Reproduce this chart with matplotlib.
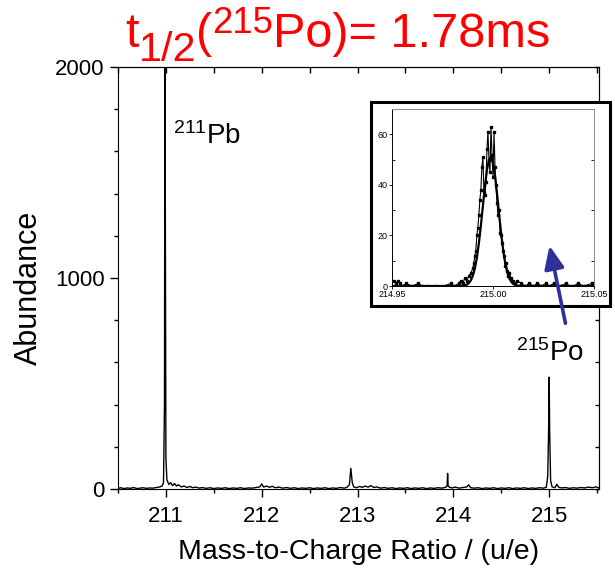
import numpy as np
import matplotlib.pyplot as plt
from matplotlib.patches import Rectangle, FancyArrowPatch
from matplotlib.ticker import MultipleLocator

plt.rcParams['font.family'] = ['Liberation Sans', 'DejaVu Sans']
plt.rcParams['mathtext.fontset'] = 'custom'
plt.rcParams['mathtext.rm'] = 'Liberation Sans'
plt.rcParams['mathtext.it'] = 'Liberation Sans:italic'

# mass spectrum
mass = [210.50, 210.53, 210.56, 210.60, 210.63, 210.66, 210.70, 210.73, 210.76, 210.80,
        210.83, 210.86, 210.90, 210.93, 210.96, 210.975, 210.985, 210.99, 210.995, 211.00,
        211.01, 211.03, 211.05, 211.07, 211.09, 211.11, 211.13, 211.16, 211.19, 211.22,
        211.25, 211.28, 211.31, 211.35, 211.38, 211.42, 211.46, 211.50, 211.54, 211.58,
        211.62, 211.66, 211.70, 211.74, 211.78, 211.82, 211.86, 211.90, 211.94, 211.98,
        212.00, 212.02, 212.05, 212.08, 212.11, 212.14, 212.18, 212.22, 212.26, 212.30,
        212.34, 212.38, 212.42, 212.46, 212.50, 212.54, 212.58, 212.62, 212.66, 212.70,
        212.74, 212.78, 212.82, 212.86, 212.89, 212.915, 212.93, 212.945, 212.96, 212.99,
        213.02, 213.05, 213.08, 213.11, 213.14, 213.17, 213.20, 213.24, 213.28, 213.32,
        213.36, 213.40, 213.44, 213.48, 213.52, 213.56, 213.60, 213.64, 213.68, 213.72,
        213.76, 213.80, 213.84, 213.88, 213.92, 213.935, 213.94, 213.945, 213.96, 213.99,
        214.02, 214.06, 214.10, 214.14, 214.16, 214.18, 214.22, 214.26, 214.30, 214.34,
        214.38, 214.42, 214.46, 214.50, 214.54, 214.58, 214.62, 214.66, 214.70, 214.74,
        214.78, 214.82, 214.86, 214.90, 214.94, 214.97, 214.985, 214.995, 215.00, 215.005,
        215.015, 215.03, 215.06, 215.08, 215.10, 215.13, 215.17, 215.21, 215.25, 215.29,
        215.33, 215.37, 215.41, 215.45, 215.49, 215.52]
counts = [3, 6, 2, 5, 3, 7, 2, 4, 6, 3,
          5, 4, 7, 9, 14, 30, 400, 2100, 1200, 150,
          45, 22, 30, 16, 26, 14, 20, 10, 14, 7,
          12, 6, 9, 4, 7, 3, 6, 2, 5, 3,
          6, 2, 5, 3, 6, 2, 5, 4, 7, 10,
          24, 9, 14, 8, 13, 6, 9, 4, 7, 3,
          6, 2, 5, 3, 6, 2, 5, 3, 6, 2,
          5, 3, 7, 4, 8, 20, 98, 30, 10, 6,
          12, 8, 14, 9, 16, 7, 10, 4, 7, 3,
          6, 2, 5, 3, 6, 2, 5, 3, 6, 2,
          5, 3, 6, 4, 8, 15, 74, 15, 8, 5,
          9, 4, 7, 10, 20, 6, 4, 6, 2, 5,
          3, 6, 2, 5, 3, 6, 2, 5, 3, 6,
          2, 5, 3, 6, 4, 8, 60, 300, 530, 280,
          40, 10, 6, 22, 8, 5, 7, 3, 6, 4,
          7, 5, 9, 6, 10, 5]

# inset: 215Po peak, data points
po_x = [214.951, 214.952, 214.953, 214.954, 214.955, 214.957, 214.960, 214.963, 214.965, 214.968,
        214.972, 214.976, 214.979, 214.981, 214.983, 214.984, 214.985, 214.986, 214.987, 214.988,
        214.989, 214.990, 214.9905, 214.991, 214.9915, 214.992, 214.9925, 214.993, 214.9935, 214.994,
        214.9945, 214.995, 214.9955, 214.996, 214.9965, 214.997, 214.9975, 214.998, 214.9985, 214.999,
        214.9995, 215.000, 215.0005, 215.001, 215.0015, 215.002, 215.0025, 215.003, 215.0035, 215.004,
        215.0045, 215.005, 215.0055, 215.006, 215.0065, 215.007, 215.0075, 215.008, 215.009, 215.010,
        215.011, 215.012, 215.014, 215.016, 215.018, 215.020, 215.022, 215.024, 215.026, 215.028,
        215.030, 215.033, 215.036, 215.038, 215.040, 215.042, 215.045, 215.049]
po_y = [2, 1, 2, 1, 0, 1, 0, 1, 0, 0,
        0, 0, 1, 0, 1, 2, 1, 3, 2, 4,
        5, 7, 9, 12, 14, 20, 23, 28, 34, 38,
        47, 51, 37, 36, 41, 54, 61, 50, 45, 63,
        52, 43, 61, 47, 40, 33, 28, 30, 21, 20,
        17, 14, 12, 8, 9, 6, 4, 5, 3, 2,
        1, 2, 1, 0, 1, 0, 1, 0, 1, 0,
        1, 0, 1, 0, 0, 1, 0, 1]

# inset: fitted curve
fit_x = [214.95, 214.983, 214.985, 214.986, 214.987, 214.988, 214.989, 214.990, 214.991, 214.992,
         214.993, 214.994, 214.995, 214.996, 214.997, 214.998, 214.999, 215.000, 215.001, 215.002,
         215.003, 215.004, 215.005, 215.006, 215.007, 215.008, 215.009, 215.010, 215.011, 215.012,
         215.014, 215.05]
fit_y = [0, 0, 0.1, 0.2, 0.5, 1.1, 2.2, 4.0, 6.9, 11.1,
         16.9, 23.9, 31.7, 39.4, 45.9, 49.9, 51.0, 48.7, 43.5, 36.4,
         28.6, 21.0, 14.4, 9.3, 5.6, 3.2, 1.7, 0.8, 0.4, 0.2,
         0, 0]

fig = plt.figure(figsize=(6.15, 5.78), dpi=100)
ax = fig.add_axes([118 / 615, 89 / 578, 481 / 615, 422 / 578])
ax.plot(mass, counts, color='black', lw=1.0)
ax.set_xlim(210.5, 215.52)
ax.set_ylim(0, 2000)
ax.xaxis.set_major_locator(MultipleLocator(1))
ax.xaxis.set_minor_locator(MultipleLocator(0.5))
ax.yaxis.set_major_locator(MultipleLocator(1000))
ax.yaxis.set_minor_locator(MultipleLocator(200))
ax.tick_params(axis='both', which='major', direction='out', length=6, width=1, labelsize=16)
ax.tick_params(axis='both', which='minor', direction='out', length=3, width=1)
ax.tick_params(axis='x', which='major', pad=6)

# inward ticks on top and right
top = ax.secondary_xaxis('top')
top.xaxis.set_major_locator(MultipleLocator(0.5))
top.tick_params(direction='in', length=4, width=1, labeltop=False)
right = ax.secondary_yaxis('right')
right.yaxis.set_major_locator(MultipleLocator(200))
right.tick_params(direction='in', length=3, width=1, labelright=False)

ax.set_xlabel('Mass-to-Charge Ratio / (u/e)', fontsize=20.5, labelpad=9)
ax.set_ylabel('Abundance', fontsize=22)
ax.yaxis.set_label_coords(-0.155, 0.477)

ax.text(211.07, 1634, r'$^{211}$Pb', fontsize=20, va='baseline')
ax.text(214.65, 608, r'$^{215}$Po', fontsize=20, va='baseline')

# title built from pieces so sub/superscripts can be sized like the original
red = '#ff0000'
fs = 35
d = 0.21 * fs
t0 = fig.text(125 / 615, 1 - 47 / 578, 't', fontsize=fs, color=red, va='baseline')
t1 = ax.annotate('1/2', xy=(1, 0), xycoords=t0, xytext=(0, -9.5 + 0.15 * d),
                 textcoords='offset points', fontsize=0.85 * fs, color=red, va='bottom')
t2 = ax.annotate('(', xy=(1, 0), xycoords=(t1, t0), fontsize=fs, color=red, va='bottom')
t3 = ax.annotate('215', xy=(1, 0), xycoords=(t2, t0), xytext=(0, 10 + 0.25 * d),
                 textcoords='offset points', fontsize=0.75 * fs, color=red, va='bottom')
t4 = ax.annotate('Po)= 1.78ms', xy=(1, 0), xycoords=(t3, t0), fontsize=fs, color=red,
                 va='bottom')

# white frame behind the inset
frame = Rectangle((371 / 615, 272 / 578), 239 / 615, 204 / 578, transform=fig.transFigure,
                  facecolor='white', edgecolor='black', lw=2.2, zorder=2)
fig.patches.append(frame)

ins = fig.add_axes([392 / 615, 292 / 578, 202 / 615, 177 / 578], zorder=3)
ins.plot(fit_x, fit_y, color='black', lw=1.6)
ins.plot(po_x, po_y, color='black', lw=0.8, marker='s', ms=1.8)
ins.set_xlim(214.95, 215.05)
ins.set_ylim(0, 70)
ins.set_xticks([214.95, 215.00, 215.05])
ins.set_xticklabels(['214.95', '215.00', '215.05'])
ins.yaxis.set_major_locator(MultipleLocator(20))
ins.yaxis.set_minor_locator(MultipleLocator(10))
ins.tick_params(axis='both', which='both', direction='out', labelsize=6.5, length=2, width=0.6, pad=1)
ins.tick_params(axis='y', which='minor', right=True, direction='in')
for s in ins.spines.values():
    s.set_linewidth(0.7)
ins.spines['right'].set_color('#888888')
ins.spines['top'].set_color('#888888')

arrow = FancyArrowPatch((566 / 615, 252 / 578), (549 / 615, 335 / 578),
                        transform=fig.transFigure, arrowstyle='-|>,head_length=6,head_width=2.6',
                        mutation_scale=2.3, color='#30309c', lw=2.6, zorder=5)
fig.patches.append(arrow)

plt.savefig('out.png', dpi=100)
